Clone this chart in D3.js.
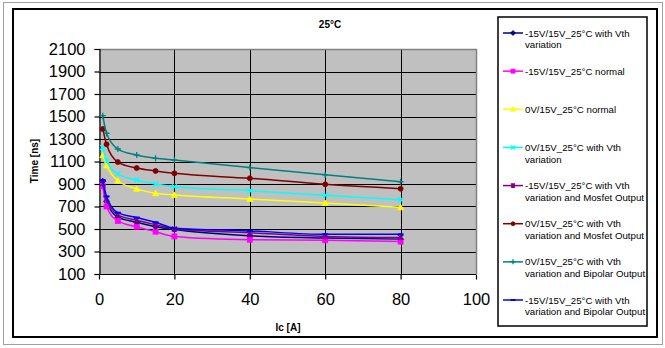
<!DOCTYPE html>
<html>
<head>
<meta charset="utf-8">
<script src="https://cdn.jsdelivr.net/npm/d3@7"></script>
<style>
  html, body { margin: 0; padding: 0; background: #fff; }
  svg { display: block; font-family: "Liberation Sans", Arial, sans-serif; }
</style>
</head>
<body>
<svg id="chart" width="665" height="348"></svg>
<script>
// ---- data ----
const chartTitle = "25°C";
const xTitle = "Ic [A]";
const yTitle = "Time [ns]";
const xValues = [1, 2, 5, 10, 15, 20, 40, 60, 80];
const xTicks = [0, 20, 40, 60, 80, 100];
const yTicks = [100, 300, 500, 700, 900, 1100, 1300, 1500, 1700, 1900, 2100];

const seriesNames = [
  ["-15V/15V_25°C with Vth", "variation"],
  ["-15V/15V_25°C normal"],
  ["0V/15V_25°C normal"],
  ["0V/15V_25°C with Vth", "variation"],
  ["-15V/15V_25°C with Vth", "variation and Mosfet Output"],
  ["0V/15V_25°C with Vth", "variation and Mosfet Output"],
  ["0V/15V_25°C with Vth", "variation and Bipolar Output"],
  ["-15V/15V_25°C with Vth", "variation and Bipolar Output"]
];
const vthVariation      = [925, 745, 605, 560, 520, 495, 440, 420, 410];
const normalNeg         = [880, 700, 572, 520, 476, 434, 405, 400, 388];
const normalZero        = [1155, 1065, 929, 857, 818, 803, 767, 731, 693];
const vthVariationZero  = [1225, 1110, 990, 935, 900, 876, 840, 800, 760];
const mosfetNeg         = [905, 770, 625, 578, 538, 500, 467, 434, 424];
const mosfetZero        = [1389, 1253, 1095, 1042, 1016, 995, 951, 897, 858];
const bipolarZero       = [1507, 1351, 1211, 1158, 1128, 1113, 1046, 982, 920];
const bipolarNeg        = [935, 790, 645, 602, 560, 507, 483, 453, 453];

const seriesValues = [vthVariation, normalNeg, normalZero, vthVariationZero,
                      mosfetNeg, mosfetZero, bipolarZero, bipolarNeg];
const seriesColors = ["#000080", "#FF00FF", "#FFFF00", "#00FFFF",
                      "#800080", "#800000", "#008080", "#0000FF"];
const seriesMarkers = ["diamond", "square", "triangle", "x", "star", "circle", "plus", "dash"];

// ---- layout ----
const svg = d3.select("#chart");
const plot = { left: 99, right: 476, top: 49, bottom: 274 };
const x = d3.scaleLinear().domain([0, 100]).range([plot.left, plot.right]);
const y = d3.scaleLinear().domain([100, 2100]).range([plot.bottom, plot.top]);

// outer frames
svg.append("rect").attr("x", 3.5).attr("y", 2.5).attr("width", 659).attr("height", 342)
  .attr("fill", "#fff").attr("stroke", "#a0a0a0").attr("stroke-width", 1);
svg.append("rect").attr("x", 13).attr("y", 9).attr("width", 644).attr("height", 328)
  .attr("fill", "#fff").attr("stroke", "#000").attr("stroke-width", 2);

// plot area
svg.append("rect").attr("x", plot.left).attr("y", plot.top)
  .attr("width", plot.right - plot.left).attr("height", plot.bottom - plot.top)
  .attr("fill", "#c0c0c0");

// gridlines
const g = svg.append("g");
g.selectAll("line.hg").data(yTicks.filter(v => v > 100 && v < 2100)).enter().append("line")
  .attr("x1", plot.left).attr("x2", plot.right)
  .attr("y1", d => Math.round(y(d)) + 0.5).attr("y2", d => Math.round(y(d)) + 0.5)
  .attr("stroke", "#000").attr("stroke-width", 1);
g.selectAll("line.vg").data(xTicks.filter(v => v > 0 && v < 100)).enter().append("line")
  .attr("y1", plot.top).attr("y2", plot.bottom)
  .attr("x1", d => Math.round(x(d)) + 0.5).attr("x2", d => Math.round(x(d)) + 0.5)
  .attr("stroke", "#000").attr("stroke-width", 1);

// plot border (top/right gray)
svg.append("path")
  .attr("d", `M${plot.left},${plot.top + 0.5}H${plot.right + 0.5}V${plot.bottom}`)
  .attr("fill", "none").attr("stroke", "#808080").attr("stroke-width", 1.5);

// axes
const yAxis = d3.axisLeft(y).tickValues(yTicks).tickSize(5).tickPadding(9).tickFormat(d3.format("d"));
const yG = svg.append("g").attr("transform", `translate(${plot.left + 0.5},0)`).call(yAxis);
const xAxis = d3.axisBottom(x).tickValues(xTicks).tickSize(5).tickPadding(14).tickFormat(d3.format("d"));
const xG = svg.append("g").attr("transform", `translate(0,${plot.bottom + 0.5})`).call(xAxis);
[yG, xG].forEach(a => {
  a.select(".domain").attr("stroke", "#000").attr("stroke-width", 1.2);
  a.selectAll(".tick line").attr("stroke", "#000").attr("stroke-width", 1.2);
  a.selectAll(".tick text").attr("fill", "#000")
    .style("font-family", "'Liberation Sans', Arial, sans-serif").style("font-size", "16.5px");
});
xG.select(".domain").attr("d", `M${plot.left},0H${plot.right}`);

// titles
svg.append("text").attr("x", 330).attr("y", 28).attr("text-anchor", "middle")
  .style("font-size", "10px").style("font-weight", "bold").text(chartTitle);
svg.append("text").attr("x", 288).attr("y", 331).attr("text-anchor", "middle")
  .style("font-size", "10px").style("font-weight", "bold").text(xTitle);
svg.append("text").attr("transform", "translate(38,161) rotate(-90)").attr("text-anchor", "middle")
  .style("font-size", "10px").style("font-weight", "bold").text(yTitle);

// markers
function drawMarker(sel, type, color, cx, cy, s) {
  const h = s / 2;
  if (type === "diamond") {
    sel.append("path").attr("d", `M${cx},${cy - h - 0.5}L${cx + h + 0.5},${cy}L${cx},${cy + h + 0.5}L${cx - h - 0.5},${cy}Z`)
      .attr("fill", color).attr("stroke", color).attr("stroke-width", 0.8);
  } else if (type === "square") {
    sel.append("rect").attr("x", cx - h).attr("y", cy - h).attr("width", s).attr("height", s)
      .attr("fill", color).attr("stroke", color).attr("stroke-width", 0.8);
  } else if (type === "triangle") {
    sel.append("path").attr("d", `M${cx},${cy - h - 0.5}L${cx + h + 0.5},${cy + h}L${cx - h - 0.5},${cy + h}Z`)
      .attr("fill", color).attr("stroke", color).attr("stroke-width", 0.8);
  } else if (type === "circle") {
    sel.append("circle").attr("cx", cx).attr("cy", cy).attr("r", h)
      .attr("fill", color).attr("stroke", color).attr("stroke-width", 0.8);
  } else if (type === "x") {
    sel.append("path").attr("d", `M${cx - h},${cy - h}L${cx + h},${cy + h}M${cx - h},${cy + h}L${cx + h},${cy - h}`)
      .attr("stroke", color).attr("stroke-width", 1.3).attr("fill", "none");
  } else if (type === "star") {
    sel.append("path").attr("d", `M${cx - h},${cy - h}L${cx + h},${cy + h}M${cx - h},${cy + h}L${cx + h},${cy - h}M${cx},${cy - h - 0.5}L${cx},${cy + h + 0.5}`)
      .attr("stroke", color).attr("stroke-width", 1.3).attr("fill", "none");
  } else if (type === "plus") {
    sel.append("path").attr("d", `M${cx - h - 0.5},${cy}L${cx + h + 0.5},${cy}M${cx},${cy - h - 0.5}L${cx},${cy + h + 0.5}`)
      .attr("stroke", color).attr("stroke-width", 1.3).attr("fill", "none");
  } else if (type === "dash") {
    sel.append("path").attr("d", `M${cx - h - 0.5},${cy}L${cx + h + 0.5},${cy}`)
      .attr("stroke", color).attr("stroke-width", 2).attr("fill", "none");
  }
}

// series
const line = d3.line().x(d => x(d[0])).y(d => y(d[1])).curve(d3.curveMonotoneX);
const plotClip = svg.append("defs").append("clipPath").attr("id", "pc").append("rect")
  .attr("x", plot.left).attr("y", plot.top).attr("width", plot.right - plot.left).attr("height", plot.bottom - plot.top);
const seriesG = svg.append("g");
seriesValues.forEach((vals, i) => {
  const pts = xValues.map((xv, j) => [xv, vals[j]]);
  const sg = seriesG.append("g");
  sg.append("path").datum(pts).attr("d", line).attr("fill", "none")
    .attr("stroke", seriesColors[i]).attr("stroke-width", 1.5);
  pts.forEach(p => drawMarker(sg, seriesMarkers[i], seriesColors[i], x(p[0]), y(p[1]), 5));
});

// legend
const legend = svg.append("g");
legend.append("rect").attr("x", 498).attr("y", 17).attr("width", 149).attr("height", 309)
  .attr("fill", "#fff").attr("stroke", "#000").attr("stroke-width", 1.5);
const legendY = d3.scaleLinear().domain([0, 7]).range([33, 300]);
seriesNames.forEach((lines, i) => {
  const ly = legendY(i);
  const lg = legend.append("g");
  lg.append("line").attr("x1", 503).attr("x2", 523).attr("y1", ly).attr("y2", ly)
    .attr("stroke", seriesColors[i]).attr("stroke-width", 1.5);
  drawMarker(lg, seriesMarkers[i], seriesColors[i], 513, ly, 4);
  const t = lg.append("text").attr("x", 525).attr("y", ly + 3.5)
    .style("font-size", "9.7px").attr("fill", "#000");
  lines.forEach((s, k) => {
    t.append("tspan").attr("x", 525).attr("dy", k === 0 ? 0 : 11.8).text(s);
  });
});
</script>
</body>
</html>
